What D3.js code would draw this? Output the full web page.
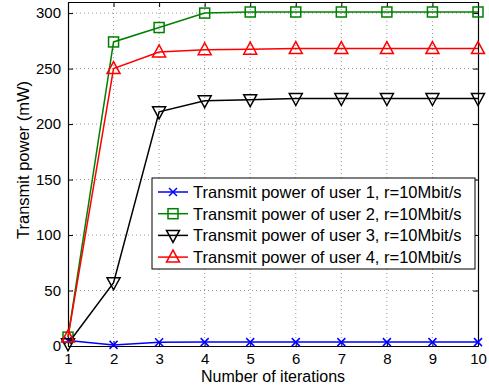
<html>
<head>
<meta charset="utf-8">
<title>Transmit power vs iterations</title>
<style>
  body { margin: 0; background: #fff; }
  text { font-family: "Liberation Sans", Arial, sans-serif; }
</style>
</head>
<body>
<script src="https://cdnjs.cloudflare.com/ajax/libs/d3/7.8.5/d3.min.js"></script>
<script>
var width = 489, height = 390;
var margin = {left: 68, right: 11, top: 2, bottom: 44};

var iterations = [1, 2, 3, 4, 5, 6, 7, 8, 9, 10];
var user1 = [5, 1, 3.3, 3.5, 3.5, 3.5, 3.5, 3.5, 3.5, 3.5];
var user2 = [8, 274, 287, 300, 301, 301, 301, 301, 301, 301];
var user3 = [2, 57, 211, 221, 222, 223, 223, 223, 223, 223];
var user4 = [8, 250, 265, 267, 267.5, 268, 268, 268, 268, 268];
var yTicks = [0, 50, 100, 150, 200, 250, 300];
var labels = ["Transmit power of user 1, r=10Mbit/s",
              "Transmit power of user 2, r=10Mbit/s",
              "Transmit power of user 3, r=10Mbit/s",
              "Transmit power of user 4, r=10Mbit/s"];

var series = [
  {values: user1, color: "#0000ff", marker: "x"},
  {values: user2, color: "#008000", marker: "square"},
  {values: user3, color: "#000000", marker: "down"},
  {values: user4, color: "#ff0000", marker: "up"}
];

var svg = d3.select("body").append("svg")
  .attr("width", width).attr("height", height);

var x = d3.scaleLinear().domain([1, 10]).range([margin.left, width - margin.right]);
var y = d3.scaleLinear().domain([0, 310]).range([height - margin.bottom, margin.top]);

// grid
var grid = svg.append("g").attr("stroke", "#999").attr("stroke-dasharray", "1,3").attr("stroke-width", 1);
iterations.slice(1, -1).forEach(function(t) {
  grid.append("line").attr("x1", x(t)).attr("x2", x(t)).attr("y1", y(0)).attr("y2", y(310));
});
yTicks.slice(1).forEach(function(t) {
  grid.append("line").attr("x1", x(1)).attr("x2", x(10)).attr("y1", y(t)).attr("y2", y(t));
});

// axes
var xAxis = d3.axisBottom(x).tickValues(iterations).tickSizeInner(-5).tickSizeOuter(0).tickPadding(7.5);
var yAxis = d3.axisLeft(y).tickValues(yTicks).tickSizeInner(-5).tickSizeOuter(0).tickPadding(7);
var gx = svg.append("g").attr("transform", "translate(0," + y(0) + ")").call(xAxis);
var gy = svg.append("g").attr("transform", "translate(" + x(1) + ",0)").call(yAxis);
var gx2 = svg.append("g").attr("transform", "translate(0," + y(310) + ")")
  .call(d3.axisTop(x).tickValues(iterations).tickSizeInner(-5).tickSizeOuter(0).tickFormat(""));
var gy2 = svg.append("g").attr("transform", "translate(" + x(10) + ",0)")
  .call(d3.axisRight(y).tickValues(yTicks).tickSizeInner(-5).tickSizeOuter(0).tickFormat(""));
[gx, gy, gx2, gy2].forEach(function(g) {
  g.selectAll("text").attr("font-size", 15).attr("fill", "#000")
   .attr("font-family", "Liberation Sans, Arial, sans-serif");
  g.selectAll("line").attr("stroke", "#000");
  g.select(".domain").attr("stroke", "#000").attr("stroke-width", 1.2);
});

svg.append("text").attr("x", x(5.5)).attr("y", 382).attr("text-anchor", "middle")
  .attr("font-size", 16).text("Number of iterations");
svg.append("text").attr("transform", "translate(29,160) rotate(-90)")
  .attr("text-anchor", "middle").attr("font-size", 16.5).text("Transmit power (mW)");

function drawMarker(g, mx, my, type, color) {
  if (type === "x") {
    g.append("path").attr("d", "M" + (mx - 4) + "," + (my - 4) + "L" + (mx + 4) + "," + (my + 4) +
      "M" + (mx - 4) + "," + (my + 4) + "L" + (mx + 4) + "," + (my - 4))
      .attr("stroke", color).attr("stroke-width", 1.5);
  } else if (type === "square") {
    g.append("rect").attr("x", mx - 5).attr("y", my - 5).attr("width", 10).attr("height", 10)
      .attr("fill", "none").attr("stroke", color).attr("stroke-width", 1.5);
  } else if (type === "down") {
    g.append("path").attr("d", "M" + (mx - 6.5) + "," + (my - 5) + "L" + (mx + 6.5) + "," + (my - 5) +
      "L" + mx + "," + (my + 7) + "Z").attr("fill", "none").attr("stroke", color).attr("stroke-width", 1.5);
  } else {
    g.append("path").attr("d", "M" + (mx - 6.5) + "," + (my + 5) + "L" + (mx + 6.5) + "," + (my + 5) +
      "L" + mx + "," + (my - 7) + "Z").attr("fill", "none").attr("stroke", color).attr("stroke-width", 1.5);
  }
}

var line = d3.line().x(function(d, i) { return x(iterations[i]); }).y(function(d) { return y(d); });

series.forEach(function(s) {
  var g = svg.append("g");
  g.append("path").datum(s.values).attr("d", line)
    .attr("fill", "none").attr("stroke", s.color).attr("stroke-width", 1.5);
  s.values.forEach(function(v, i) { drawMarker(g, x(iterations[i]), y(v), s.marker, s.color); });
});

// legend
var lg = svg.append("g");
lg.append("rect").attr("x", 152).attr("y", 178).attr("width", 323).attr("height", 91)
  .attr("fill", "#fff").attr("stroke", "#000").attr("stroke-width", 1);
series.forEach(function(s, i) {
  var ly = 192 + i * 21.7;
  lg.append("line").attr("x1", 158).attr("x2", 188).attr("y1", ly).attr("y2", ly)
    .attr("stroke", s.color).attr("stroke-width", 1.5);
  drawMarker(lg, 173, ly, s.marker, s.color);
  lg.append("text").attr("x", 193).attr("y", ly + 6).attr("font-size", 16.5).text(labels[i]);
});
</script>
</body>
</html>
